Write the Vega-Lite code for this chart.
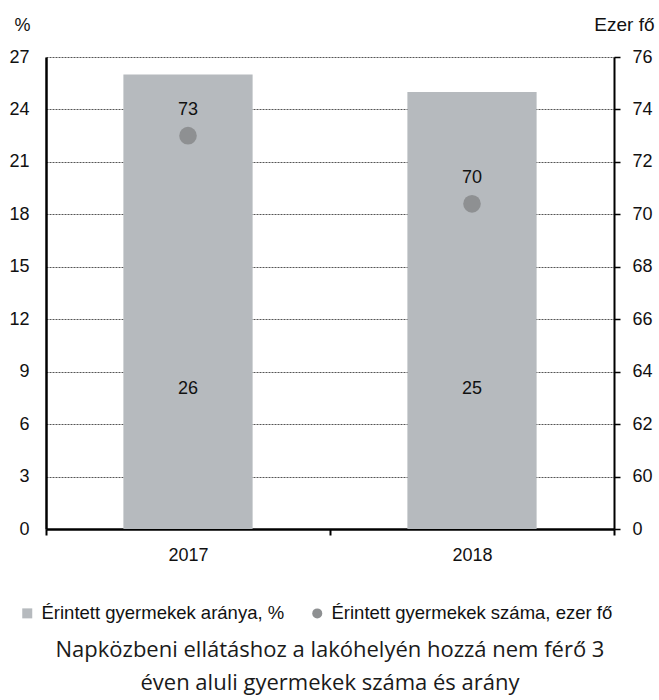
{
  "$schema": "https://vega.github.io/schema/vega-lite/v6.json",
  "width": 568,
  "height": 472,
  "autosize": {"type": "none"},
  "padding": {"left": 46, "top": 57, "right": 45, "bottom": 171},
  "background": "white",
  "config": {
    "view": {"stroke": null},
    "font": "Liberation Sans"
  },
  "title": {
    "text": ["Napközbeni ellátáshoz a lakóhelyén hozzá nem férő 3", "éven aluli gyermekek száma és arány"],
    "orient": "bottom",
    "anchor": "middle",
    "font": "Open Sans",
    "fontSize": 22,
    "fontWeight": "normal",
    "color": "#1a1a1a",
    "lineHeight": 33,
    "offset": 17
  },
  "data": {
    "values": [
      {"year": "2017", "share": 26, "count": 73, "share_s": "Érintett gyermekek aránya, %", "count_s": "Érintett gyermekek száma, ezer fő"},
      {"year": "2018", "share": 25, "count": 70.4, "share_s": "Érintett gyermekek aránya, %", "count_s": "Érintett gyermekek száma, ezer fő"}
    ]
  },
  "encoding": {
    "x": {
      "field": "year",
      "type": "nominal",
      "scale": {"paddingInner": 0, "paddingOuter": 0},
      "axis": {
        "title": null,
        "labelAngle": 0,
        "labelFontSize": 18,
        "labelColor": "#111",
        "labelPadding": 11,
        "domainColor": "#000",
        "domainWidth": 2.5,
        "tickBand": "extent",
        "tickColor": "#000",
        "tickWidth": 2,
        "tickSize": 6
      }
    }
  },
  "layer": [
    {
      "layer": [
        {
          "mark": {"type": "bar", "color": "#b6babe", "width": {"band": 0.455}},
          "encoding": {
            "y": {
              "field": "share",
              "type": "quantitative",
              "scale": {"domain": [0, 27], "nice": false},
              "axis": {
                "values": [0, 3, 6, 9, 12, 15, 18, 21, 24, 27],
                "title": "%",
                "titleAngle": 0,
                "titleAlign": "left",
                "titleBaseline": "middle",
                "titleX": -32,
                "titleY": -32,
                "titleFontSize": 18,
                "titleFontWeight": "normal",
                "titleColor": "#111",
                "labelFontSize": 18,
                "labelColor": "#111",
                "labelPadding": 17,
                "ticks": false,
                "domainColor": "#000",
                "domainWidth": 2.5,
                "grid": true,
                "gridColor": "#555",
                "gridDash": [2, 1],
                "gridWidth": 1
              }
            },
            "color": {
              "field": "share_s",
              "type": "nominal",
              "scale": {"domain": ["Érintett gyermekek aránya, %", "Érintett gyermekek száma, ezer fő"], "range": ["#b6babe", "#8e9092"]},
              "legend": {
                "title": null,
                "orient": "none",
                "legendX": -28,
                "legendY": 547,
                "direction": "horizontal",
                "labelFont": "Liberation Sans",
                "labelFontSize": 18.5,
                "labelLimit": 0,
                "labelColor": "#111",
                "labelOffset": 5,
                "symbolSize": 100,
                "columnPadding": 23,
                "symbolStrokeWidth": 0
              }
            }
          }
        },
        {
          "mark": {"type": "text", "fontSize": 18, "color": "#111"},
          "encoding": {
            "y": {"datum": 8, "type": "quantitative"},
            "text": {"field": "share", "type": "quantitative"}
          }
        }
      ]
    },
    {
      "layer": [
        {
          "mark": {"type": "point", "filled": true, "size": 310, "opacity": 1},
          "encoding": {
            "y": {
              "field": "count",
              "type": "quantitative",
              "scale": {"domain": [58, 76], "nice": false, "zero": false},
              "axis": {
                "orient": "right",
                "values": [58, 60, 62, 64, 66, 68, 70, 72, 74, 76],
                "labelExpr": "datum.value == 58 ? '0' : datum.label",
                "title": "Ezer fő",
                "titleAngle": 0,
                "titleAlign": "right",
                "titleBaseline": "middle",
                "titleX": 40,
                "titleY": -33,
                "titleFontSize": 19,
                "titleFontWeight": "normal",
                "titleColor": "#111",
                "labelFontSize": 18,
                "labelColor": "#111",
                "labelPadding": 12,
                "tickColor": "#000",
                "tickWidth": 1.5,
                "tickSize": 6,
                "domainColor": "#000",
                "domainWidth": 2,
                "grid": false
              }
            },
            "color": {
              "field": "count_s",
              "type": "nominal"
            },
            "shape": {
              "field": "count_s",
              "type": "nominal",
              "scale": {"domain": ["Érintett gyermekek aránya, %", "Érintett gyermekek száma, ezer fő"], "range": ["square", "circle"]}
            }
          }
        },
        {
          "mark": {"type": "text", "fontSize": 18, "color": "#111", "dy": -26},
          "encoding": {
            "y": {"field": "count", "type": "quantitative"},
            "text": {"field": "count", "type": "quantitative", "format": ".0f"}
          }
        }
      ]
    }
  ],
  "resolve": {"scale": {"y": "independent"}}
}
